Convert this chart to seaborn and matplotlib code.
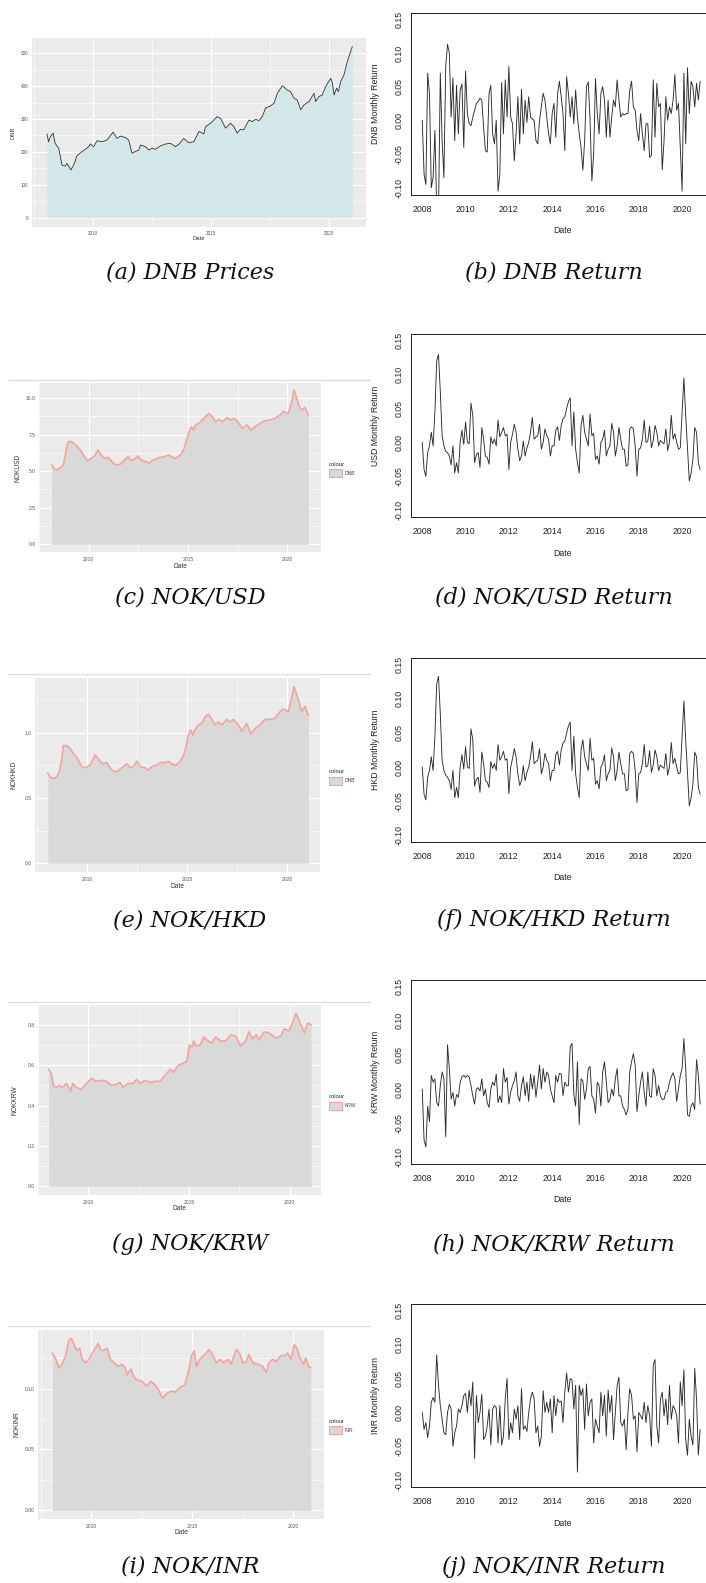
import numpy as np
import pandas as pd
import matplotlib
matplotlib.use("Agg")
import matplotlib.pyplot as plt
import seaborn as sns
from matplotlib.lines import Line2D
from matplotlib.patches import Patch

# ---------------- data ----------------
dnb_price_year = [2008.05, 2008.12, 2008.19, 2008.31, 2008.40, 2008.55, 2008.69, 2008.83, 2008.90, 2009.07,
                  2009.21, 2009.32, 2009.53, 2009.68, 2009.82, 2009.89, 2010.03, 2010.17, 2010.38, 2010.59,
                  2010.85, 2011.02, 2011.16, 2011.37, 2011.51, 2011.65, 2011.79, 2011.94, 2012.01, 2012.22,
                  2012.36, 2012.50, 2012.64, 2012.85, 2013.06, 2013.28, 2013.49, 2013.63, 2013.84, 2014.05,
                  2014.27, 2014.48, 2014.69, 2014.76, 2014.97, 2015.11, 2015.25, 2015.40, 2015.61, 2015.82,
                  2015.96, 2016.10, 2016.24, 2016.38, 2016.60, 2016.74, 2016.88, 2017.02, 2017.16, 2017.30,
                  2017.51, 2017.66, 2017.80, 2018.01, 2018.22, 2018.36, 2018.50, 2018.64, 2018.79, 2018.93,
                  2019.14, 2019.35, 2019.42, 2019.56, 2019.70, 2019.84, 2020.06, 2020.13, 2020.20, 2020.31,
                  2020.38, 2020.48, 2020.62, 2020.76, 2020.90, 2020.97]
dnb_price = [255, 231, 246, 257, 226, 211, 160, 157, 165, 145, 165, 188, 201, 208, 216, 224, 216, 234, 231, 236,
             260, 241, 248, 244, 236, 196, 201, 206, 221, 216, 206, 211, 208, 218, 224, 226, 216, 223, 241, 228,
             231, 262, 255, 277, 287, 297, 307, 302, 272, 287, 277, 257, 269, 267, 297, 292, 299, 295, 307, 333,
             340, 348, 378, 401, 388, 383, 363, 358, 328, 343, 353, 378, 353, 368, 373, 398, 424, 408, 373, 394,
             383, 414, 434, 475, 505, 520]

usd_price_year = [2008.13, 2008.25, 2008.38, 2008.55, 2008.72, 2008.80, 2008.88, 2008.97, 2009.13, 2009.30,
                  2009.47, 2009.63, 2009.80, 2009.93, 2010.13, 2010.30, 2010.47, 2010.63, 2010.80, 2010.97,
                  2011.13, 2011.30, 2011.55, 2011.72, 2011.88, 2012.00, 2012.13, 2012.30, 2012.47, 2012.63,
                  2012.88, 2013.05, 2013.22, 2013.38, 2013.55, 2013.72, 2013.88, 2014.05, 2014.22, 2014.38,
                  2014.63, 2014.80, 2014.93, 2015.05, 2015.17, 2015.27, 2015.38, 2015.55, 2015.72, 2015.88,
                  2016.05, 2016.22, 2016.38, 2016.55, 2016.72, 2016.97, 2017.13, 2017.30, 2017.50, 2017.72,
                  2017.97, 2018.17, 2018.38, 2018.63, 2018.88, 2019.13, 2019.38, 2019.63, 2019.80, 2020.05,
                  2020.22, 2020.33, 2020.47, 2020.60, 2020.72, 2020.88, 2021.05]
usd_price = [5.43, 5.20, 5.09, 5.20, 5.43, 5.88, 6.56, 7.02, 7.02, 6.86, 6.63, 6.34, 5.95, 5.72, 5.88, 6.04,
             6.45, 6.11, 5.88, 5.95, 5.72, 5.47, 5.43, 5.65, 5.88, 6.00, 5.72, 5.81, 6.04, 5.77, 5.65, 5.54,
             5.77, 5.81, 5.95, 5.95, 6.04, 6.11, 5.95, 5.88, 6.11, 6.56, 7.13, 7.70, 8.04, 7.82, 8.16, 8.27,
             8.50, 8.73, 8.95, 8.73, 8.39, 8.54, 8.39, 8.66, 8.50, 8.61, 8.39, 7.93, 8.16, 7.82, 8.04, 8.27,
             8.45, 8.50, 8.61, 8.84, 9.07, 8.95, 9.75, 10.55, 9.98, 9.41, 9.18, 9.36, 8.84]

hkd_price_year = [2008.02, 2008.13, 2008.30, 2008.47, 2008.60, 2008.72, 2008.80, 2008.97, 2009.13, 2009.30,
                  2009.47, 2009.72, 2009.88, 2010.13, 2010.30, 2010.38, 2010.63, 2010.80, 2010.97, 2011.22,
                  2011.47, 2011.72, 2011.88, 2012.00, 2012.13, 2012.30, 2012.47, 2012.63, 2012.88, 2013.05,
                  2013.22, 2013.47, 2013.63, 2013.88, 2014.05, 2014.22, 2014.43, 2014.63, 2014.80, 2014.93,
                  2015.05, 2015.17, 2015.27, 2015.38, 2015.55, 2015.72, 2015.88, 2016.05, 2016.22, 2016.38,
                  2016.55, 2016.72, 2016.97, 2017.13, 2017.30, 2017.50, 2017.72, 2017.97, 2018.17, 2018.38,
                  2018.63, 2018.88, 2019.13, 2019.38, 2019.63, 2019.80, 2020.05, 2020.22, 2020.33, 2020.47,
                  2020.60, 2020.72, 2020.88, 2021.05]
hkd_price = [0.69, 0.66, 0.65, 0.66, 0.70, 0.80, 0.90, 0.90, 0.88, 0.84, 0.81, 0.74, 0.73, 0.75, 0.80, 0.83,
             0.78, 0.76, 0.77, 0.71, 0.70, 0.73, 0.75, 0.76, 0.73, 0.74, 0.78, 0.74, 0.73, 0.71, 0.74, 0.75,
             0.77, 0.77, 0.78, 0.76, 0.75, 0.78, 0.82, 0.89, 0.98, 1.02, 0.98, 1.02, 1.06, 1.07, 1.12, 1.14,
             1.10, 1.06, 1.08, 1.06, 1.10, 1.08, 1.10, 1.07, 1.01, 1.07, 0.99, 1.03, 1.06, 1.10, 1.10, 1.11,
             1.16, 1.18, 1.16, 1.27, 1.35, 1.29, 1.22, 1.16, 1.20, 1.13]

krw_price_year = [2008.03, 2008.15, 2008.27, 2008.40, 2008.57, 2008.73, 2008.90, 2009.03, 2009.12, 2009.23,
                  2009.40, 2009.65, 2009.90, 2010.15, 2010.40, 2010.65, 2010.90, 2011.15, 2011.40, 2011.57,
                  2011.73, 2011.98, 2012.23, 2012.40, 2012.57, 2012.82, 2013.07, 2013.32, 2013.57, 2013.82,
                  2014.07, 2014.23, 2014.48, 2014.73, 2014.90, 2015.02, 2015.15, 2015.23, 2015.35, 2015.57,
                  2015.73, 2015.95, 2016.12, 2016.32, 2016.57, 2016.82, 2017.07, 2017.32, 2017.57, 2017.82,
                  2017.98, 2018.15, 2018.35, 2018.48, 2018.73, 2018.98, 2019.32, 2019.57, 2019.73, 2019.98,
                  2020.32, 2020.48, 2020.73, 2020.90, 2021.07]
krw_price = [0.58, 0.56, 0.50, 0.49, 0.50, 0.49, 0.51, 0.49, 0.47, 0.51, 0.49, 0.48, 0.51, 0.535, 0.52, 0.525,
             0.52, 0.50, 0.505, 0.515, 0.49, 0.51, 0.51, 0.53, 0.51, 0.525, 0.515, 0.52, 0.52, 0.55, 0.58, 0.565,
             0.60, 0.61, 0.62, 0.70, 0.69, 0.72, 0.695, 0.70, 0.74, 0.72, 0.71, 0.74, 0.72, 0.72, 0.75, 0.745,
             0.695, 0.72, 0.765, 0.73, 0.75, 0.725, 0.765, 0.76, 0.735, 0.745, 0.78, 0.77, 0.855, 0.82, 0.76,
             0.81, 0.80]

inr_price_year = [2008.08, 2008.25, 2008.41, 2008.57, 2008.74, 2008.90, 2009.02, 2009.18, 2009.31, 2009.43,
                  2009.56, 2009.72, 2009.89, 2010.05, 2010.21, 2010.34, 2010.46, 2010.62, 2010.79, 2010.95,
                  2011.20, 2011.36, 2011.52, 2011.69, 2011.77, 2011.97, 2012.10, 2012.26, 2012.51, 2012.75,
                  2012.95, 2013.16, 2013.33, 2013.54, 2013.74, 2013.98, 2014.15, 2014.39, 2014.64, 2014.80,
                  2014.97, 2015.10, 2015.21, 2015.38, 2015.62, 2015.84, 2016.03, 2016.20, 2016.36, 2016.56,
                  2016.77, 2016.93, 2017.18, 2017.34, 2017.51, 2017.67, 2017.80, 2018.00, 2018.25, 2018.49,
                  2018.66, 2018.79, 2018.98, 2019.15, 2019.39, 2019.61, 2019.72, 2019.89, 2020.05, 2020.18,
                  2020.34, 2020.51, 2020.62, 2020.75, 2020.87]
inr_price = [0.129, 0.124, 0.117, 0.120, 0.127, 0.140, 0.141, 0.135, 0.131, 0.133, 0.124, 0.121, 0.124, 0.129,
             0.133, 0.137, 0.132, 0.131, 0.133, 0.124, 0.120, 0.118, 0.120, 0.117, 0.111, 0.116, 0.110, 0.107,
             0.106, 0.102, 0.106, 0.103, 0.099, 0.092, 0.096, 0.098, 0.097, 0.101, 0.103, 0.113, 0.127, 0.131,
             0.118, 0.124, 0.128, 0.132, 0.127, 0.121, 0.124, 0.121, 0.124, 0.120, 0.132, 0.129, 0.121, 0.122,
             0.128, 0.121, 0.120, 0.118, 0.113, 0.121, 0.124, 0.122, 0.127, 0.127, 0.129, 0.124, 0.136, 0.133,
             0.125, 0.120, 0.125, 0.118, 0.117]

# monthly returns, starting January 2008
ret_start = "2008-01-01"
dnb_ret = [0.000, -0.080, -0.095, 0.070, 0.040, -0.100, -0.085, -0.015, -0.130, -0.140, 0.070, -0.030, -0.085,
           0.080, 0.113, 0.100, 0.005, 0.063, -0.030, 0.052, -0.020, 0.045, 0.054, -0.040, 0.073, 0.010,
           -0.005, -0.008, 0.005, 0.015, 0.025, 0.028, 0.033, 0.030, -0.010, -0.045, -0.047, 0.040, 0.052,
           -0.020, -0.035, 0.000, -0.105, -0.080, 0.056, -0.020, 0.060, 0.005, 0.080, 0.005, -0.005, -0.060,
           -0.020, 0.035, -0.035, 0.046, -0.020, 0.030, -0.003, 0.035, 0.005, 0.002, 0.000, -0.030, -0.035,
           0.000, 0.020, 0.040, 0.030, 0.005, -0.020, -0.035, 0.010, 0.025, -0.025, 0.040, 0.058, 0.035,
           0.010, -0.045, 0.065, 0.040, 0.005, 0.035, -0.005, 0.045, 0.005, -0.020, -0.040, -0.074, -0.030,
           0.050, 0.057, 0.000, -0.090, -0.050, 0.062, 0.010, -0.020, 0.040, 0.050, 0.030, -0.025, 0.030,
           -0.025, 0.005, 0.030, 0.020, 0.060, 0.030, 0.005, 0.010, 0.008, 0.010, 0.010, 0.045, 0.058, 0.020,
           0.015, -0.015, -0.030, 0.010, -0.020, -0.045, -0.005, -0.005, -0.055, -0.052, 0.060, -0.025, 0.055,
           0.020, 0.025, -0.073, -0.030, 0.035, 0.000, 0.020, 0.010, 0.030, 0.068, 0.015, 0.025, -0.040,
           -0.105, 0.070, -0.035, 0.078, 0.010, 0.058, 0.050, 0.020, 0.055, 0.030, 0.058]
usd_ret = [0.000, -0.040, -0.050, -0.015, -0.005, 0.015, -0.005, 0.045, 0.120, 0.130, 0.075, 0.010, -0.005,
           -0.013, -0.015, -0.020, -0.033, -0.005, -0.045, -0.030, -0.045, 0.000, 0.018, -0.003, 0.030, 0.000,
           -0.002, 0.058, 0.040, -0.030, -0.018, -0.015, -0.037, 0.022, 0.005, -0.020, -0.022, -0.032, 0.008,
           -0.002, 0.005, -0.005, 0.033, 0.008, 0.015, 0.022, 0.010, 0.012, -0.040, 0.000, 0.012, 0.027, 0.015,
           -0.010, -0.027, -0.020, 0.002, -0.020, -0.008, 0.000, 0.015, 0.037, 0.005, 0.008, 0.010, 0.027,
           -0.010, 0.000, 0.020, 0.010, 0.005, -0.020, -0.005, -0.005, 0.018, 0.023, 0.003, 0.025, 0.035, 0.038,
           0.050, 0.060, 0.066, -0.005, 0.045, -0.010, -0.030, -0.045, 0.025, 0.040, 0.015, 0.005, -0.005,
           0.042, 0.010, 0.013, -0.025, -0.020, -0.032, 0.000, 0.005, 0.018, -0.020, -0.010, -0.005, 0.028,
           0.015, -0.020, -0.005, 0.022, 0.005, -0.010, -0.010, -0.035, -0.033, 0.020, 0.023, 0.020, -0.005,
           -0.050, -0.010, -0.008, 0.005, 0.033, 0.000, 0.002, 0.024, -0.008, 0.003, 0.025, 0.015, -0.005,
           0.003, 0.000, -0.002, 0.020, -0.012, 0.000, 0.040, 0.005, 0.013, 0.000, -0.010, -0.008, 0.045,
           0.095, 0.040, -0.010, -0.057, -0.045, -0.025, 0.022, 0.015, -0.030, -0.040]
hkd_ret = [0.000, -0.040, -0.048, -0.015, -0.005, 0.015, -0.005, 0.045, 0.122, 0.133, 0.078, 0.010, -0.005,
           -0.012, -0.015, -0.020, -0.033, -0.005, -0.045, -0.030, -0.045, 0.000, 0.018, -0.003, 0.030, 0.000,
           -0.002, 0.056, 0.040, -0.028, -0.018, -0.015, -0.037, 0.022, 0.005, -0.020, -0.022, -0.030, 0.008,
           -0.002, 0.005, -0.005, 0.033, 0.010, 0.015, 0.023, 0.010, 0.012, -0.039, 0.000, 0.012, 0.027, 0.015,
           -0.010, -0.027, -0.020, 0.002, -0.020, -0.008, 0.000, 0.015, 0.037, 0.005, 0.008, 0.010, 0.027,
           -0.010, 0.000, 0.020, 0.010, 0.005, -0.020, -0.005, -0.005, 0.018, 0.023, 0.003, 0.025, 0.035, 0.038,
           0.050, 0.060, 0.066, -0.005, 0.045, -0.010, -0.030, -0.045, 0.025, 0.040, 0.015, 0.005, -0.005,
           0.042, 0.010, 0.013, -0.025, -0.020, -0.032, 0.000, 0.005, 0.018, -0.020, -0.010, -0.005, 0.028,
           0.015, -0.020, -0.005, 0.022, 0.005, -0.010, -0.010, -0.035, -0.033, 0.020, 0.023, 0.020, -0.005,
           -0.052, -0.010, -0.008, 0.005, 0.033, 0.000, 0.002, 0.024, -0.008, 0.003, 0.025, 0.015, -0.005,
           0.003, 0.000, -0.002, 0.020, -0.012, 0.000, 0.036, 0.005, 0.013, 0.000, -0.010, -0.008, 0.045,
           0.097, 0.040, -0.010, -0.057, -0.045, -0.025, 0.022, 0.015, -0.030, -0.040]
krw_ret = [0.000, -0.075, -0.085, -0.025, -0.048, 0.020, 0.010, 0.015, -0.020, -0.025, 0.005, 0.025, 0.015,
           -0.070, 0.065, 0.030, -0.015, -0.005, -0.025, -0.008, -0.012, 0.010, 0.018, 0.020, 0.017, 0.020,
           0.018, 0.005, -0.010, -0.022, 0.000, 0.002, -0.003, 0.015, -0.010, 0.000, -0.020, -0.027, 0.000,
           0.010, 0.005, 0.022, -0.020, -0.010, -0.020, 0.030, 0.010, 0.017, -0.022, -0.005, 0.005, 0.012,
           0.025, -0.010, -0.018, 0.005, 0.018, -0.010, 0.010, -0.018, 0.022, 0.000, 0.020, -0.012, 0.010,
           0.035, 0.000, 0.030, 0.010, 0.025, 0.020, 0.000, -0.010, -0.020, 0.020, 0.010, 0.023, 0.022, -0.010,
           0.010, 0.005, 0.005, 0.062, 0.067, -0.008, -0.025, 0.040, -0.052, 0.015, 0.012, -0.015, 0.000,
           0.030, 0.033, -0.010, -0.015, -0.035, 0.010, 0.005, -0.025, 0.025, 0.040, 0.010, -0.020, -0.015,
           0.000, -0.010, 0.015, 0.030, -0.010, -0.010, -0.025, -0.030, -0.038, -0.030, 0.025, 0.040, 0.052,
           0.035, -0.033, -0.010, 0.010, 0.025, -0.005, -0.025, 0.025, -0.010, -0.012, 0.030, 0.020, -0.010,
           0.005, -0.010, -0.015, -0.015, -0.005, -0.003, 0.010, 0.018, 0.024, 0.015, -0.018, 0.000, 0.020,
           0.030, 0.074, 0.030, -0.038, -0.040, -0.025, -0.020, -0.030, 0.043, 0.020, -0.022]
inr_ret = [0.000, -0.025, -0.015, -0.037, -0.020, 0.015, 0.022, 0.015, 0.085, 0.040, 0.010, -0.010, -0.030,
           -0.033, 0.000, 0.012, 0.005, -0.050, -0.030, -0.020, 0.005, 0.000, 0.010, 0.025, 0.028, 0.000,
           0.033, 0.010, 0.045, -0.068, 0.025, -0.015, 0.000, 0.027, -0.040, -0.035, -0.020, 0.005, -0.048,
           0.005, 0.010, 0.007, -0.045, 0.010, -0.048, -0.035, 0.020, 0.050, -0.040, -0.015, -0.030, 0.005,
           -0.010, 0.010, -0.040, 0.035, -0.025, -0.020, -0.028, 0.000, 0.020, 0.030, 0.020, -0.030, -0.020,
           -0.050, -0.035, 0.032, 0.000, 0.015, 0.000, 0.020, -0.030, 0.025, -0.005, 0.020, 0.015, 0.017,
           -0.015, 0.030, 0.058, 0.030, 0.050, 0.048, 0.005, 0.040, -0.088, 0.040, 0.025, 0.035, -0.025, 0.042,
           -0.005, 0.015, 0.020, -0.045, -0.010, -0.020, -0.030, 0.030, -0.005, 0.025, -0.035, 0.033, 0.000,
           0.025, -0.040, 0.000, 0.040, 0.052, -0.015, -0.020, -0.010, -0.055, 0.000, 0.035, 0.025, -0.010,
           -0.005, -0.058, 0.000, -0.005, -0.010, 0.015, -0.015, 0.010, -0.005, -0.050, 0.070, 0.078, -0.020,
           -0.045, 0.020, 0.030, -0.005, 0.020, -0.018, 0.040, -0.010, 0.010, 0.005, -0.005, -0.045, 0.045,
           0.010, 0.063, -0.040, -0.063, -0.010, -0.035, -0.048, 0.065, 0.020, -0.063, -0.025]

captions = ["(a) DNB Prices", "(b) DNB Return", "(c) NOK/USD", "(d) NOK/USD Return", "(e) NOK/HKD",
            "(f) NOK/HKD Return", "(g) NOK/KRW", "(h) NOK/KRW Return", "(i) NOK/INR", "(j) NOK/INR Return"]

# ---------------- figure ----------------
sns.set_theme(style="white")
plt.rcParams['font.family'] = ['Liberation Sans', 'DejaVu Sans']

W, H = 706, 1583
fig = plt.figure(figsize=(W / 100, H / 100), dpi=100)
fig.patch.set_facecolor("white")


def fxy(x, y):
    return x / W, 1 - y / H


def add_ax(x0, y0, x1, y1):
    return fig.add_axes([x0 / W, 1 - y1 / H, (x1 - x0) / W, (y1 - y0) / H])


def month_years(n):
    d = pd.date_range(ret_start, periods=n, freq="MS")
    return np.asarray(d.year + (d.month - 1) / 12.0, dtype=float)


def gg_panel(box, years, vals, xlim, ylim, yticks, ylabels, yminor, ytitle, ytitle_x,
             fill, line, lw, tsize, ttsize, xlab_off, date_off, legend_label=None, top_line=None):
    x0, y0, x1, y1 = box
    n = min(len(years), len(vals))
    years = np.asarray(years[:n], float)
    vals = np.asarray(vals[:n], float)
    ax = add_ax(*box)
    ax.set_facecolor("#EBEBEB")
    ax.fill_between(years, vals, 0, color=fill, lw=0, zorder=2)
    sns.lineplot(x=years, y=vals, ax=ax, color=line, lw=lw, estimator=None, sort=False,
                 legend=False, zorder=3)
    ax.set_xlim(*xlim)
    ax.set_ylim(*ylim)
    ax.set_xticks([2010, 2015, 2020])
    ax.set_xticklabels(["2010", "2015", "2020"])
    ax.set_xticks([2007.5, 2012.5, 2017.5], minor=True)
    ax.set_yticks(yticks)
    ax.set_yticklabels(ylabels)
    ax.set_yticks(yminor, minor=True)
    ax.grid(which="major", color="white", lw=0.8)
    ax.grid(which="minor", color="white", lw=0.4)
    ax.set_axisbelow(True)
    for s in ax.spines.values():
        s.set_visible(False)
    ax.tick_params(which="major", length=1.5, width=0.4, color="#555555", labelsize=tsize,
                   labelcolor="#555555", pad=1)
    ax.tick_params(axis="x", which="major", pad=xlab_off)
    ax.tick_params(which="minor", length=0)
    h = y1 - y0
    w = x1 - x0
    ax.set_xlabel("Date", fontsize=ttsize, color="#333333")
    ax.xaxis.set_label_coords(0.5, -date_off / h)
    ax.xaxis.label.set_va("center")
    ax.set_ylabel(ytitle, fontsize=ttsize, color="#333333")
    ax.yaxis.set_label_coords((ytitle_x - x0) / w, 0.5)
    ax.yaxis.label.set_va("center")
    if legend_label is not None:
        cy = (y0 + y1) / 2
        fig.legend(handles=[Patch(facecolor=fill, edgecolor=line, lw=0.8, label=legend_label)],
                   title="colour", loc="center left", bbox_to_anchor=fxy(329, cy + 2),
                   frameon=False, fontsize=3.6, title_fontsize=4.2, handlelength=2.6,
                   handleheight=2.0, borderpad=0, borderaxespad=0, handletextpad=0.5,
                   alignment="left", labelcolor="#444444")
    if top_line is not None:
        fig.add_artist(Line2D([8 / W, 370 / W], [1 - top_line / H] * 2, color="#DDDDDD", lw=1.0))
    return ax


def r_panel(box, vals, ytitle):
    x0, y0, x1, y1 = box
    years = month_years(len(vals))
    ax = add_ax(*box)
    ax.set_facecolor("white")
    sns.lineplot(x=years, y=np.asarray(vals, float), ax=ax, color="#2b2b2b", lw=0.65,
                 estimator=None, sort=False, legend=False)
    ax.set_xlim(2007.48, 2021.52)
    ax.set_ylim(-0.11, 0.16)
    ax.set_xticks(list(range(2008, 2021, 2)))
    ax.set_xticklabels([str(v) for v in range(2008, 2021, 2)])
    yt = [-0.10, -0.05, 0.00, 0.05, 0.10, 0.15]
    ax.set_yticks(yt)
    ax.set_yticklabels(["-0.10", "-0.05", "0.00", "0.05", "0.10", "0.15"], rotation=90, va="center")
    ax.grid(False)
    for s in ax.spines.values():
        s.set_visible(True)
        s.set_color("#222222")
        s.set_linewidth(0.7)
    ax.tick_params(which="major", length=3.5, width=0.6, color="#222222", labelsize=6.3,
                   labelcolor="#222222", direction="out")
    ax.tick_params(axis="x", pad=4)
    ax.tick_params(axis="y", pad=2)
    h = y1 - y0
    w = x1 - x0
    ax.set_xlabel("Date", fontsize=6.3, color="#222222")
    ax.xaxis.set_label_coords(0.5, -36 / h)
    ax.xaxis.label.set_va("center")
    ax.set_ylabel(ytitle, fontsize=6.3, color="#222222")
    ax.yaxis.set_label_coords((375 - x0) / w, 0.5)
    ax.yaxis.label.set_va("center")
    return ax


GRAY_FILL = "#D9D9D9"
PINK = "#F2A59D"

# (a)
gg_panel((32, 38, 366, 227), dnb_price_year, dnb_price, (2007.42, 2021.55), (-28, 546),
         [0, 100, 200, 300, 400, 500], ["0", "100", "200", "300", "400", "500"],
         [50, 150, 250, 350, 450], "DNB", 13, "#D3E6E8", "#333333", 0.6, 3.3, 4.2, 1.5, 12)
# (c)
gg_panel((39, 383, 321, 552), usd_price_year, usd_price, (2007.58, 2021.69), (-0.525, 11.03),
         [0.0, 2.5, 5.0, 7.5, 10.0], ["0.0", "2.5", "5.0", "7.5", "10.0"],
         [1.25, 3.75, 6.25, 8.75], "NOKUSD", 18, GRAY_FILL, PINK, 1.2, 3.6, 4.8, 2.0, 14,
         legend_label="DNB", top_line=380)
# (e)
gg_panel((35, 678, 320, 872), hkd_price_year, hkd_price, (2007.38, 2021.63), (-0.0675, 1.4175),
         [0.0, 0.5, 1.0], ["0.0", "0.5", "1.0"], [0.25, 0.75, 1.25], "NOKHKD", 14,
         GRAY_FILL, PINK, 1.2, 3.6, 4.8, 2.0, 14, legend_label="DNB", top_line=674)
# (g)
gg_panel((38, 1005, 321, 1195), krw_price_year, krw_price, (2007.55, 2021.56), (-0.0428, 0.898),
         [0.0, 0.2, 0.4, 0.6, 0.8], ["0.0", "0.2", "0.4", "0.6", "0.8"], [0.1, 0.3, 0.5, 0.7],
         "NOKKRW", 15, GRAY_FILL, PINK, 1.2, 3.6, 4.8, 2.0, 14, legend_label="KRW", top_line=1002)
# (i)
gg_panel((38, 1330, 324, 1519), inr_price_year, inr_price, (2007.37, 2021.52), (-0.00705, 0.148),
         [0.00, 0.05, 0.10], ["0.00", "0.05", "0.10"], [0.025, 0.075, 0.125], "NOKINR", 17,
         GRAY_FILL, PINK, 1.2, 3.6, 4.8, 2.0, 14, legend_label="INR", top_line=1326)

# right column
r_panel((411, 12.5, 715, 194.5), dnb_ret, "DNB Monthly Return")
r_panel((411, 334, 715, 517), usd_ret, "USD Monthly Return")
r_panel((411, 658, 715, 842), hkd_ret, "HKD Monthly Return")
r_panel((411, 980, 715, 1164), krw_ret, "KRW Monthly Return")
r_panel((411, 1304, 715, 1487), inr_ret, "INR Monthly Return")

# captions
cap_y = [273, 597, 920, 1244, 1567]
for i, c in enumerate(captions):
    row, col = divmod(i, 2)
    x = 190 if col == 0 else 554
    fig.text(*fxy(x, cap_y[row]), c, ha="center", va="center", fontsize=16,
             family=["DejaVu Serif"], style="italic", color="#111111", fontweight="light")

fig.savefig("out.png", dpi=100, facecolor="white")
